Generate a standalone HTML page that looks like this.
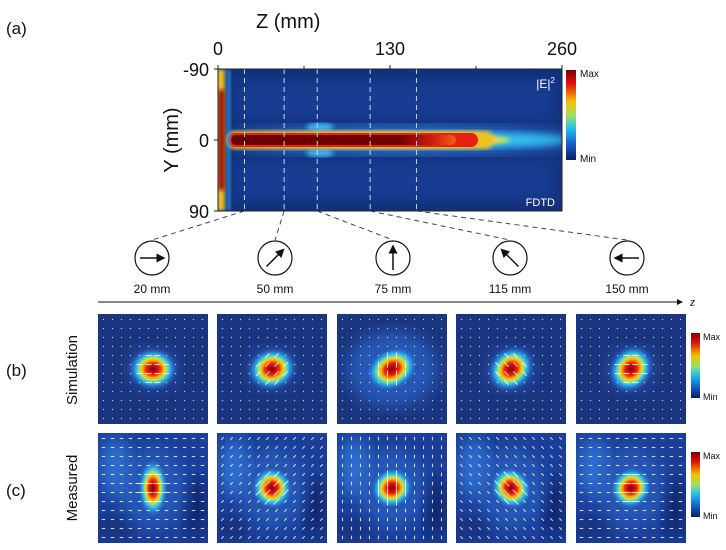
<!DOCTYPE html>
<html><head><meta charset="utf-8"><style>
body{margin:0;background:#fff;font-family:"Liberation Sans",sans-serif;}
svg{display:block}
</style></head><body>
<svg id="fig" width="726" height="550" viewBox="0 0 726 550">
<defs>
<linearGradient id="cbar" x1="0" y1="0" x2="0" y2="1">
<stop offset="0" stop-color="#7a0000"/><stop offset="0.15" stop-color="#e01010"/><stop offset="0.35" stop-color="#f5c000"/><stop offset="0.5" stop-color="#a0e060"/><stop offset="0.65" stop-color="#20c0f0"/><stop offset="0.82" stop-color="#1860c8"/><stop offset="1" stop-color="#0a1e6a"/>
</linearGradient>
<radialGradient id="blob">
<stop offset="0" stop-color="#6a0000"/><stop offset="0.14" stop-color="#c80808"/><stop offset="0.28" stop-color="#f03010"/><stop offset="0.38" stop-color="#f6b000"/><stop offset="0.48" stop-color="#c8e050"/><stop offset="0.6" stop-color="#30c8e8"/><stop offset="0.78" stop-color="#2a70d0" stop-opacity="0.7"/><stop offset="1" stop-color="#1c3c90" stop-opacity="0"/>
</radialGradient>
<linearGradient id="beamcore" x1="0" y1="0" x2="1" y2="0">
<stop offset="0" stop-color="#6a0000"/><stop offset="0.75" stop-color="#700000"/><stop offset="0.9" stop-color="#d02010"/><stop offset="1" stop-color="#f06010"/>
</linearGradient>
<filter id="bl2"><feGaussianBlur stdDeviation="2"/></filter>
<filter id="bl4"><feGaussianBlur stdDeviation="4"/></filter>
<filter id="bl8"><feGaussianBlur stdDeviation="8"/></filter>
<clipPath id="hmclip"><rect x="218" y="69" width="344" height="142"/></clipPath>
<marker id="ah" markerWidth="6" markerHeight="6" refX="5" refY="3" orient="auto"><path d="M0,0 L6,3 L0,6 z" fill="#111"/></marker>
</defs>

<text x="6" y="34" font-size="17" fill="#111">(a)</text>
<text x="256" y="28" font-size="20" fill="#111">Z (mm)</text>
<g id="topticks"></g>
<text transform="translate(178,140) rotate(-90)" text-anchor="middle" font-size="20" fill="#111">Y (mm)</text>

<g clip-path="url(#hmclip)">
<rect x="218" y="69" width="344" height="142" fill="#13307c"/>
<rect x="235" y="80" width="320" height="40" fill="#1d4aa8" filter="url(#bl8)" opacity="0.5"/>
<rect x="235" y="160" width="320" height="40" fill="#1d4aa8" filter="url(#bl8)" opacity="0.5"/>
<ellipse cx="400" cy="140" rx="170" ry="14" fill="#2a78d8" filter="url(#bl8)"/>
<ellipse cx="320" cy="127" rx="14" ry="4" fill="#40b0f0" filter="url(#bl2)"/>
<ellipse cx="320" cy="153" rx="14" ry="4" fill="#40b0f0" filter="url(#bl2)"/>
<ellipse cx="410" cy="140" rx="160" ry="8" fill="#30c8f0" filter="url(#bl4)"/>
<ellipse cx="400" cy="140" rx="110" ry="7" fill="#f0e040" filter="url(#bl2)"/>
<rect x="226" y="131" width="268" height="18" rx="9" fill="#f0c020" filter="url(#bl2)"/>
<rect x="228" y="133" width="250" height="14" rx="7" fill="#e82010"/>
<rect x="231" y="135" width="225" height="10" rx="5" fill="url(#beamcore)"/>
<rect x="216" y="69" width="9" height="142" fill="#f0c020" filter="url(#bl2)"/>
<rect x="218" y="90" width="7" height="100" fill="#a00808" filter="url(#bl2)"/>
<rect x="226" y="69" width="5" height="142" fill="#30a0e0" filter="url(#bl2)" opacity="0.7"/>
<g id="dashes"></g>
</g>
<rect x="218" y="69" width="344" height="142" fill="none" stroke="#222" stroke-width="1"/>
<text x="555" y="88" text-anchor="end" font-size="12" fill="#fff">|E|<tspan font-size="8" dy="-5">2</tspan></text>
<text x="555" y="206" text-anchor="end" font-size="11" fill="#fff">FDTD</text>
<rect x="566" y="70" width="10" height="90" fill="url(#cbar)"/>
<text x="580" y="77" font-size="10" fill="#111">Max</text>
<text x="580" y="162" font-size="10" fill="#111">Min</text>

<g id="connectors"></g>
<g id="circles"></g>
<line x1="98" y1="302" x2="682" y2="302" stroke="#111" stroke-width="1" marker-end="url(#ah)"/>
<text x="690" y="306" font-size="13" font-style="italic" fill="#111" font-family="Liberation Serif,serif">z</text>

<text x="6" y="376" font-size="17" fill="#111">(b)</text>
<text x="6" y="496" font-size="17" fill="#111">(c)</text>
<text transform="translate(77,370) rotate(-90)" text-anchor="middle" font-size="15" fill="#111">Simulation</text>
<text transform="translate(77,488) rotate(-90)" text-anchor="middle" font-size="15" fill="#111">Measured</text>
<g id="panels"></g>
<rect x="691" y="333" width="9" height="65" fill="url(#cbar)"/>
<text x="703" y="340" font-size="9" fill="#111">Max</text>
<text x="703" y="400" font-size="9" fill="#111">Min</text>
<rect x="691" y="452" width="9" height="65" fill="url(#cbar)"/>
<text x="703" y="459" font-size="9" fill="#111">Max</text>
<text x="703" y="519" font-size="9" fill="#111">Min</text>
</svg>
<script>
const zTicks=[0,130,260];
const yTicks=[-90,0,90];
const zPositions=[20,50,75,115,150];
const polAngles=[0,45,90,135,180];
const beamTilt=[0,45,90,135,180];
const measuredStretch=[1.5,1.1,1.05,1.15,1.05];

const NS="http://www.w3.org/2000/svg";
function mk(tag,attrs,parent){const e=document.createElementNS(NS,tag);for(const k in attrs)e.setAttribute(k,attrs[k]);parent.appendChild(e);return e;}
const X0=218,X1=562,Y0=69,Y1=211;
const zx=z=>X0+(z-zTicks[0])/(zTicks[2]-zTicks[0])*(X1-X0);
const yy=y=>Y0+(y-yTicks[0])/(yTicks[2]-yTicks[0])*(Y1-Y0);
const tg=document.getElementById('topticks');
zTicks.forEach(t=>{
 const tx=mk('text',{x:zx(t),y:55,'text-anchor':'middle','font-size':18,fill:'#111'},tg);tx.textContent=t;
 
 
 mk('line',{x1:zx(t),y1:Y0,x2:zx(t),y2:Y0-4,stroke:'#222'},tg);
});
[65,195].forEach(t=>mk('line',{x1:zx(t),y1:Y0,x2:zx(t),y2:Y0-3,stroke:'#222'},tg));
yTicks.forEach(t=>{
 const tx=mk('text',{x:209,y:yy(t)+7,'text-anchor':'end','font-size':18,fill:'#111'},tg);tx.textContent=t;
 
 
 mk('line',{x1:X0,y1:yy(t),x2:X0-4,y2:yy(t),stroke:'#222'},tg);
});
const dg=document.getElementById('dashes'),cg=document.getElementById('connectors'),cc=document.getElementById('circles');
const circX=[152,275,393,510,627];
zPositions.forEach((z,i)=>{
 const l=mk('line',{x1:zx(z),y1:Y0,x2:zx(z),y2:Y1,stroke:'#c8d8f0','stroke-width':1,'stroke-dasharray':'5,4'},dg);
 
 
 mk('line',{x1:zx(z),y1:Y1,x2:circX[i],y2:240,stroke:'#444','stroke-width':1,'stroke-dasharray':'5,4'},cg);
 const g=mk('g',{},cc);
 
 
 mk('circle',{cx:circX[i],cy:258,r:17,fill:'#fff',stroke:'#111','stroke-width':1.2},g);
 const a=polAngles[i]*Math.PI/180, L=12;
 const x1=circX[i]-Math.cos(a)*L, y1=258+Math.sin(a)*L, x2=circX[i]+Math.cos(a)*L, y2=258-Math.sin(a)*L;
 mk('line',{x1:x1,y1:y1,x2:x2,y2:y2,stroke:'#111','stroke-width':1.5,'marker-end':'url(#ah)'},g);
 const t=mk('text',{x:circX[i],y:293,'text-anchor':'middle','font-size':12,fill:'#111'},cc);t.textContent=z+' mm';
 
 
});
const pg=document.getElementById('panels');
const px=[98,217,337,456,576];
[[314,false],[433,true]].forEach(([py,meas])=>{
 px.forEach((x,i)=>{
  const g=mk('g',{},pg);
  
  
  const W=110,H=110,cx=x+W/2,cy=py+H/2;
  const cp=mk('clipPath',{id:'cp'+py+i},g);mk('rect',{x:x,y:py,width:W,height:H},cp);
  const inner=mk('g',{'clip-path':'url(#cp'+py+i+')'},g);
  mk('rect',{x:x,y:py,width:W,height:H,fill:meas?'#1a3e9a':'#1a3580'},inner);
  if(meas){
   mk('ellipse',{cx:x+18,cy:py+35,rx:16,ry:30,fill:'#2f6ed0',filter:'url(#bl8)'},inner);
   mk('ellipse',{cx:x+W-12,cy:py+75,rx:12,ry:30,fill:'#10286e',filter:'url(#bl8)'},inner);
   mk('ellipse',{cx:x+15,cy:py+95,rx:20,ry:12,fill:'#12307a',filter:'url(#bl8)'},inner);
   mk('ellipse',{cx:cx,cy:cy,rx:34,ry:40,fill:'#2a62c4',filter:'url(#bl8)',opacity:0.7},inner);
  } else if(i==2){
   mk('ellipse',{cx:cx,cy:cy,rx:45,ry:38,fill:'#2858b8',filter:'url(#bl8)'},inner);
  } else {
   mk('ellipse',{cx:cx,cy:cy,rx:25,ry:22,fill:'#224aa0',filter:'url(#bl8)'},inner);
  }
  const s=meas?measuredStretch[i]:1;
  const rot=-beamTilt[i]*0.3;
  const R=meas?25:27;
  const b=mk('ellipse',{cx:cx,cy:cy,rx:R/s*(i==2&&!meas?1.1:1),ry:R*s*0.85,fill:'url(#blob)',transform:`rotate(${rot} ${cx} ${cy})`},inner);
  
  
  const a=polAngles[i]*Math.PI/180;
  const N=12, sp=9;
  for(let r=0;r<N;r++)for(let c=0;c<N;c++){
   const dx=x+5.5+c*sp, dy=py+5.5+r*sp;
   const d=Math.hypot(dx-cx,dy-cy);
   let L=meas?3.5:1.2; if(d<16)L=meas?8:6;
   mk('line',{x1:dx-Math.cos(a)*L/2,y1:dy+Math.sin(a)*L/2,x2:dx+Math.cos(a)*L/2,y2:dy-Math.sin(a)*L/2,stroke:'#fff','stroke-width':1.1,opacity:0.8},inner);
  }
 });
});
</script>
</body></html>
